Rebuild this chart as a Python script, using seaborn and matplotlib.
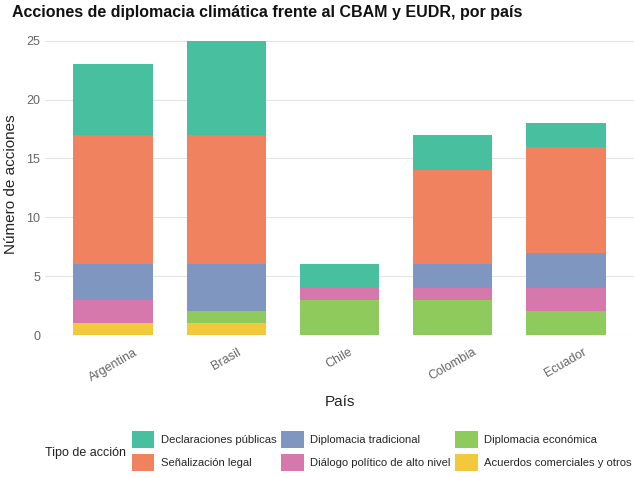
import matplotlib
matplotlib.use("Agg")
import matplotlib.pyplot as plt
import seaborn as sns
import pandas as pd
import numpy as np
from matplotlib.patches import Patch

paises = ["Argentina", "Brasil", "Chile", "Colombia", "Ecuador"]
# stack order from bottom to top
tipos = ["Acuerdos comerciales y otros", "Diplomacia económica",
         "Diálogo político de alto nivel", "Diplomacia tradicional",
         "Señalización legal", "Declaraciones públicas"]
acuerdos = [1, 1, 0, 0, 0]
economica = [0, 1, 3, 3, 2]
dialogo = [2, 0, 1, 1, 2]
tradicional = [3, 4, 0, 2, 3]
senalizacion = [11, 11, 0, 8, 9]
declaraciones = [6, 8, 2, 3, 2]
valores = [acuerdos, economica, dialogo, tradicional, senalizacion, declaraciones]

colores = {
    "Declaraciones públicas": "#48bf9f",
    "Señalización legal": "#f0825f",
    "Diplomacia tradicional": "#7f97c0",
    "Diálogo político de alto nivel": "#d778ad",
    "Diplomacia económica": "#8fcb5c",
    "Acuerdos comerciales y otros": "#f2c93b",
}

rows = []
for t, vals in zip(tipos, valores):
    for p, v in zip(paises, vals):
        rows.append({"País": p, "Tipo": t, "n": v})
df = pd.DataFrame(rows)

sns.set_theme(style="whitegrid")
plt.rcParams["font.family"] = ["Liberation Sans", "DejaVu Sans"]

W, H = 634, 478
fig = plt.figure(figsize=(W / 100, H / 100), dpi=100)
ax = fig.add_axes([45 / W, 1 - 335 / H, (634 - 45) / W, (335 - 33) / H])

bottom = np.zeros(len(paises))
for t, vals in zip(tipos, valores):
    sub = df[df["Tipo"] == t]
    sns.barplot(data=sub, x="País", y="n", order=paises, color=colores[t],
                bottom=bottom, width=0.7, ax=ax, saturation=1, errorbar=None,
                linewidth=0)
    bottom = bottom + np.array(vals)

ax.set_xlim(-0.6, 4.6)
ax.set_ylim(0, 25.65)
ax.set_yticks([0, 5, 10, 15, 20, 25])
ax.grid(axis="x", visible=False)
ax.grid(axis="y", color="#e4e4e4", linewidth=0.8)
for s in ax.spines.values():
    s.set_visible(False)
ax.tick_params(axis="both", length=0, colors="#666666", labelsize=9)
ax.tick_params(axis="x", pad=8)
plt.setp(ax.get_xticklabels(), rotation=30, ha="center", color="#666666")
ax.set_xlabel("País", fontsize=11, color="#222222", labelpad=8)
ax.set_ylabel("Número de acciones", fontsize=11, color="#222222", labelpad=6)

fig.text(12 / W, 1 - 13 / H,
         "Acciones de diplomacia climática frente al CBAM y EUDR, por país",
         fontsize=11.5, fontweight="bold", ha="left", va="center", color="#111111")

orden_leyenda = ["Declaraciones públicas", "Señalización legal",
                 "Diplomacia tradicional", "Diálogo político de alto nivel",
                 "Diplomacia económica", "Acuerdos comerciales y otros"]
handles = [Patch(facecolor=colores[t], label=t, linewidth=0) for t in orden_leyenda]
fig.legend(handles=handles, ncol=3, loc="center left", bbox_to_anchor=(124 / W, 1 - 451 / H),
           frameon=False, fontsize=8.1, handlelength=2.0, handleheight=2.0,
           columnspacing=0.45, handletextpad=0.55, labelspacing=0.45, borderpad=0.2)
fig.text(45 / W, 1 - 453 / H, "Tipo de acción", fontsize=9, va="center", color="#222222")

fig.savefig("out.png", dpi=100)
